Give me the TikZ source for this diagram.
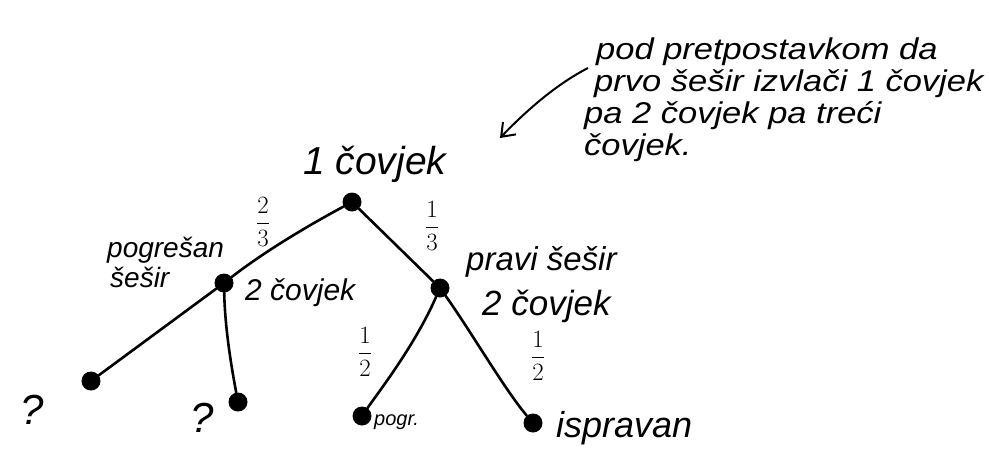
\documentclass[tikz,border=0pt]{standalone}
\usepackage{fontspec}
\setmainfont{Liberation Sans}
\newfontfamily\widefont[FakeStretch=1.15]{Liberation Sans}
\usetikzlibrary{arrows.meta}
\begin{document}
\begin{tikzpicture}[x=1pt,y=-1pt,
  dot/.style={circle,fill=black,inner sep=0pt,minimum size=19pt},
  edge/.style={line width=2.6pt,line cap=round},
  lbl/.style={inner sep=0pt,anchor=west},
  fs/.style={font=\fontsize{#1}{#1}\selectfont\itshape},
  frac/.style={font=\fontsize{27}{28}\selectfont,inner sep=0pt},
  note/.style={font=\widefont\fontsize{30}{32}\selectfont\itshape,inner sep=0pt,anchor=west}]
\useasboundingbox (0,0) rectangle (989,469);
% dots
\node[dot] (r) at (352,202) {};
\node[dot] (a) at (224,283) {};
\node[dot] (b) at (440,288) {};
\node[dot] (aa) at (91,381) {};
\node[dot] (ab) at (238,402) {};
\node[dot] (ba) at (362,416) {};
\node[dot] (bb) at (533,423) {};
% edges
\draw[edge] (r) .. controls (300,230) and (260,255) .. (a);
\draw[edge] (r) -- (b);
\draw[edge] (a) -- (aa);
\draw[edge] (a) .. controls (225,330) and (232,370) .. (ab);
\draw[edge] (b) .. controls (415,345) and (380,390) .. (ba);
\draw[edge] (b) .. controls (470,330) and (505,390) .. (bb);
% labels
\node[lbl,fs=39] (t1) at (303,164) {1 čovjek};
\node[lbl,fs=28] (t2l1) at (107,250) {pogrešan};
\node[lbl,fs=28] (t2l2) at (110,277) {šešir};
\node[lbl,fs=30] (t2c) at (245,293) {2 čovjek};
\node[lbl,fs=33] (t3l1) at (466,262) {pravi šešir};
\node[lbl,fs=35] (t3c) at (482,306) {2 čovjek};
\node[frac] (f1) at (263,222) {$\displaystyle\frac{2}{3}$};
\node[frac] (f2) at (432,226) {$\displaystyle\frac{1}{3}$};
\node[frac] (f3) at (365,352) {$\displaystyle\frac{1}{2}$};
\node[frac] (f4) at (538,356) {$\displaystyle\frac{1}{2}$};
\node[lbl,fs=42] (q1) at (20,410) {?};
\node[lbl,fs=42] (q2) at (190,418) {?};
\node[lbl,fs=20] (p) at (374,422) {pogr.};
\node[lbl,fs=36] (isp) at (556,428) {ispravan};
% note
\node[note] (n1) at (596,52) {pod pretpostavkom da};
\node[note] (n2) at (594,84) {prvo šešir izvlači 1 čovjek};
\node[note] (n3) at (584,116) {pa 2 čovjek pa treći};
\node[note] (n4) at (584,148) {čovjek.};
\coordinate (as) at (588,68);
\draw[line width=2pt,-{Straight Barb[length=12pt,width=18pt]}] (as) .. controls (555,85) and (525,112) .. (500,138);
\end{tikzpicture}
\end{document}
